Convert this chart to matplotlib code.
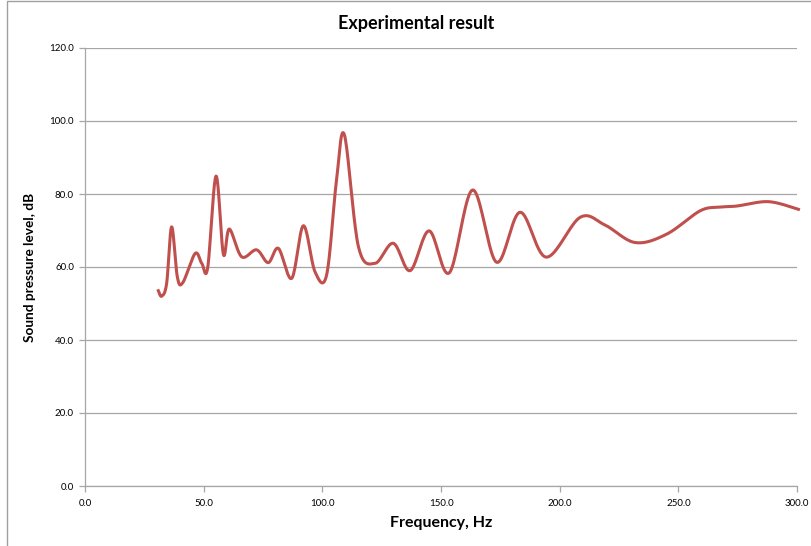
import numpy as np
import matplotlib
matplotlib.use("Agg")
import matplotlib.pyplot as plt
from matplotlib.patches import Rectangle
from matplotlib.ticker import FormatStrFormatter, MultipleLocator

# Points (frequency in Hz, sound pressure level in dB)
freq = [30.9, 32.3, 34.4, 36.5, 38.9, 41.2, 46.4, 49.2, 51.7, 55.2, 58.3,
        60.8, 66.0, 72.3, 77.2, 81.5, 87.1, 92.0, 96.9, 101.8, 106.0,
        109.3, 115.2, 122.2, 129.9, 137.0, 145.0, 153.5, 163.3, 173.4, 183.3,
        194.3, 208.6, 219.1, 231.8, 245.1, 259.2, 267.6, 274.6, 288.0, 300.6]
spl = [53.5, 52.0, 55.5, 71.0, 57.3, 55.7, 63.7, 61.0, 59.8, 84.9, 63.5,
       70.4, 62.8, 64.7, 61.2, 65.1, 56.9, 71.3, 58.7, 57.8, 84.0,
       96.2, 65.6, 61.0, 66.5, 59.0, 69.9, 58.4, 81.1, 61.3, 75.0,
       62.7, 73.6, 71.5, 66.7, 69.0, 75.4, 76.4, 76.7, 77.9, 75.8]

TITLE = "Experimental result"
XLABEL = "Frequency, Hz"
YLABEL = "Sound pressure level, dB"
LINE_COLOR = "#C0504D"


def smooth(x, y, n=20):
    # Catmull-Rom style smoothing, like a spreadsheet "smoothed line"
    x = np.asarray(x, float)
    y = np.asarray(y, float)
    px = np.concatenate([[x[0]], x, [x[-1]]])
    py = np.concatenate([[y[0]], y, [y[-1]]])
    xs, ys = [], []
    t = np.linspace(0, 1, n, endpoint=False)
    for i in range(1, len(px) - 2):
        p0, p1, p2, p3 = (np.array([px[j], py[j]]) for j in range(i - 1, i + 3))
        c1 = p1 + (p2 - p0) / 6
        c2 = p2 - (p3 - p1) / 6
        for tt in t:
            b = ((1 - tt) ** 3) * p1 + 3 * ((1 - tt) ** 2) * tt * c1 \
                + 3 * (1 - tt) * tt ** 2 * c2 + tt ** 3 * p2
            xs.append(b[0])
            ys.append(b[1])
    xs.append(x[-1])
    ys.append(y[-1])
    return np.array(xs), np.array(ys)


plt.rcParams["font.family"] = ["Lato", "DejaVu Sans"]

fig = plt.figure(figsize=(8.11, 5.46), dpi=100)
ax = fig.add_axes([85 / 811, 60 / 546, 712 / 811, 438 / 546])

# outer chart border
fig.patches.append(Rectangle((7 / 811, -0.05), 1.2, 1.05 - 1.5 / 546,
                             transform=fig.transFigure, fill=False,
                             edgecolor="#A0A0A0", linewidth=1.0))

sx, sy = smooth(freq, spl)
ax.plot(sx, sy, color=LINE_COLOR, linewidth=2.2, clip_on=False, zorder=3)

ax.set_xlim(0, 300)
ax.set_ylim(0, 120)
ax.xaxis.set_major_locator(MultipleLocator(50))
ax.yaxis.set_major_locator(MultipleLocator(20))
ax.xaxis.set_major_formatter(FormatStrFormatter("%.1f"))
ax.yaxis.set_major_formatter(FormatStrFormatter("%.1f"))

ax.grid(axis="y", color="#A6A6A6", linewidth=0.9)
ax.set_axisbelow(True)
for side in ("top", "right"):
    ax.spines[side].set_visible(False)
for side in ("left", "bottom"):
    ax.spines[side].set_color("#A6A6A6")
    ax.spines[side].set_linewidth(0.9)

ax.tick_params(axis="both", colors="#A6A6A6", labelcolor="black",
               labelsize=7, length=4, width=0.9, direction="out")
ax.tick_params(axis="x", pad=5)
ax.tick_params(axis="y", pad=4)

# title is centred on the whole chart area, not the plot area
fig.text(416 / 811, 1 - 24 / 546, TITLE, fontsize=13, fontweight="bold",
         ha="center", va="center")
ax.set_xlabel(XLABEL, fontsize=11.5, fontweight="bold", labelpad=6)
ax.set_ylabel(YLABEL, fontsize=9.8, fontweight="bold", labelpad=4)
ax.yaxis.set_label_coords(-(85 - 36) / 712, 0.5)

fig.savefig("out.png", dpi=100)
